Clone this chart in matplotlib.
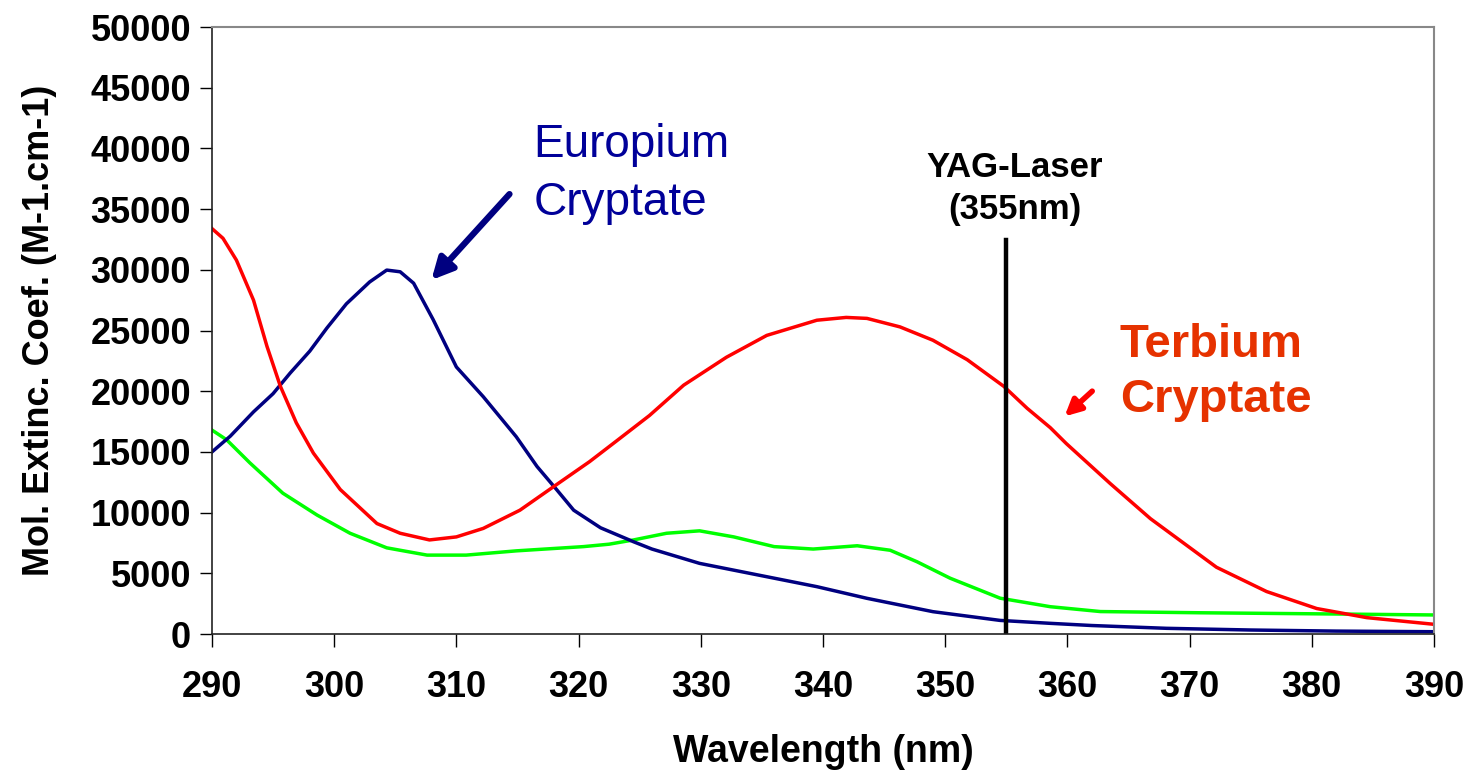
import numpy as np
import matplotlib.pyplot as plt

plt.rcParams['font.family'] = ['Liberation Sans', 'DejaVu Sans']

# absorption spectra (wavelength nm, M-1.cm-1)
wl_eu = [290, 291.5, 293.4, 295, 296.4, 298, 299.4, 301.0, 302.9, 304.3, 305.4,
         306.5, 308.1, 310.0, 312.2, 314.9, 316.6, 318.2, 319.6, 321.8, 324.5,
         326, 329.9, 334.0, 339.5, 343.6, 349.0, 354.5, 358.6, 362, 368.1, 375,
         382, 390]
eu = [15000, 16300, 18300, 19800, 21500, 23300, 25200, 27200, 29000, 29980, 29840,
      28900, 25900, 22000, 19550, 16250, 13800, 11900, 10200, 8750, 7600,
      7000, 5820, 5000, 3900, 2940, 1840, 1120, 880, 700, 470, 330,
      240, 190]

wl_tb = [290, 290.9, 292.0, 293.4, 294.5, 295.6, 296.9, 298.3, 300.5, 303.5, 305.4,
         307.8, 310.0, 312.2, 315.2, 317.9, 320.9, 323.1, 325.8, 328.6, 332.1,
         335.4, 339.5, 341.9, 343.6, 346.3, 349.0, 351.8, 354.8, 356.7, 358.6,
         359.9, 363.5, 366.8, 369.5, 372.2, 376.3, 380.4, 384.5, 390]
tb = [33400, 32600, 30800, 27500, 23700, 20400, 17400, 14900, 11900, 9100, 8300,
      7750, 8000, 8700, 10200, 12100, 14200, 15900, 18000, 20500, 22800,
      24600, 25850, 26080, 26000, 25300, 24200, 22600, 20400, 18600, 17000,
      15700, 12400, 9500, 7500, 5500, 3500, 2100, 1350, 800]

wl_gr = [290, 291.2, 293.1, 295.8, 298.6, 301.3, 304.3, 307.6, 310.8, 314.9, 320.4,
         322.5, 324.5, 327.2, 329.9, 332.7, 336.0, 339.2, 342.8, 345.5, 347.7,
         350.4, 354.5, 358.6, 362.7, 370.9, 381.8, 390]
gr = [16800, 16000, 14100, 11600, 9800, 8300, 7100, 6500, 6500, 6850, 7200,
      7400, 7750, 8300, 8500, 8000, 7200, 7000, 7270, 6900, 5950,
      4600, 2950, 2250, 1850, 1750, 1650, 1570]

laser_wl = 355
laser_top = 32450

fig = plt.figure(figsize=(14.7, 7.73), dpi=100)
ax = fig.add_axes([0.1442, 0.1798, 0.8313, 0.7852])

ax.plot(wl_gr, gr, color='#00ff00', lw=2.5)
ax.plot(wl_eu, eu, color='#000080', lw=2.5)
ax.plot(wl_tb, tb, color='#ff0000', lw=2.5)

# YAG laser line
ax.plot([laser_wl, laser_wl], [0, laser_top], color='black', lw=3.2)
ax.text(355.7, 37640, 'YAG-Laser', ha='center', va='baseline',
        fontsize=25, fontweight='bold', color='black')
ax.text(355.7, 34200, '(355nm)', ha='center', va='baseline',
        fontsize=25, fontweight='bold', color='black')

# labels + arrows
ax.text(316.3, 39290, 'Europium', ha='left', va='baseline', fontsize=33, color='#000099')
ax.text(316.3, 34510, 'Cryptate', ha='left', va='baseline', fontsize=33, color='#000099')
ax.annotate('', xy=(307.8, 28990), xytext=(314.5, 36410),
            arrowprops=dict(arrowstyle='-|>', color='#000080', lw=4.5, mutation_scale=32))

ax.text(364.3, 22820, 'Terbium', ha='left', va='baseline', fontsize=34,
        fontweight='bold', color='#e63200')
ax.text(364.3, 18290, 'Cryptate', ha='left', va='baseline', fontsize=34,
        fontweight='bold', color='#e63200')
ax.annotate('', xy=(359.6, 17770), xytext=(362.2, 20160),
            arrowprops=dict(arrowstyle='-|>', color='#ff0000', lw=4, mutation_scale=24))

ax.set_xlim(290, 390)
ax.set_ylim(0, 50000)
ax.set_xticks(np.arange(290, 391, 10))
ax.set_yticks(np.arange(0, 50001, 5000))
ax.tick_params(direction='out', length=9, width=1, labelsize=26, pad=6)
for lab in ax.get_xticklabels() + ax.get_yticklabels():
    lab.set_fontweight('bold')
ax.tick_params(axis='x', pad=17)

for s in ['left', 'bottom']:
    ax.spines[s].set_color('#222222')
    ax.spines[s].set_linewidth(1.2)
for s in ['top', 'right']:
    ax.spines[s].set_color('#888888')
    ax.spines[s].set_linewidth(1.5)

ax.set_xlabel('Wavelength (nm)', fontsize=27, fontweight='bold', labelpad=21)
ax.set_ylabel('Mol. Extinc. Coef. (M-1.cm-1)', fontsize=26, fontweight='bold', labelpad=24)

fig.savefig('out.png', dpi=100)
